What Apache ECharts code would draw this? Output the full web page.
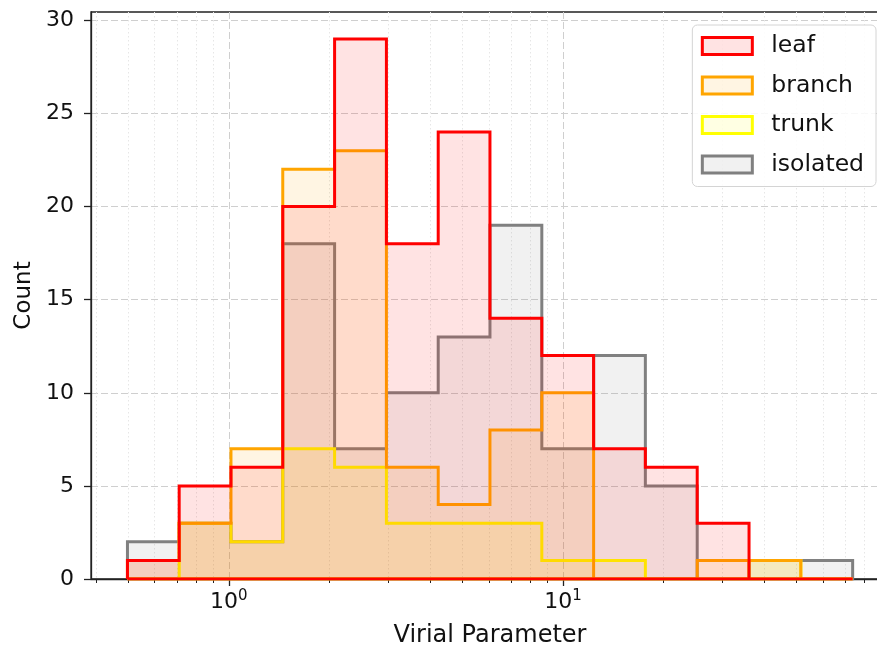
<!DOCTYPE html>
<html>
<head>
<meta charset="utf-8">
<script src="https://cdn.jsdelivr.net/npm/echarts@6/dist/echarts.min.js"></script>
<style>
  html, body { margin: 0; padding: 0; background: #fff; }
  #main { width: 877px; height: 653px; }
</style>
</head>
<body>
<div id="main"></div>
<script>
  // bin edges (log spaced)
  var binEdges = [0.4975, 0.7106, 1.0153, 1.4507, 2.0736, 2.9634, 4.2345, 6.0489,
                  8.6475, 12.357, 17.65, 25.23, 36.06, 51.53, 73.64];

  // counts per bin
  var leafCounts     = [1, 5, 6, 20, 29, 18, 24, 14, 12, 7, 6, 3, 0, 0];
  var branchCounts   = [1, 3, 7, 22, 23, 6, 4, 8, 10, 0, 0, 1, 1, 0];
  var trunkCounts    = [0, 3, 2, 7, 6, 3, 3, 3, 1, 1, 0, 0, 1, 0];
  var isolatedCounts = [2, 3, 2, 18, 7, 10, 13, 19, 7, 12, 5, 0, 1, 1];

  // axis ticks
  var xMajorTicks = [1, 10];
  var xMinorTicks = [0.4, 0.5, 0.6, 0.7, 0.8, 0.9, 2, 3, 4, 5, 6, 7, 8, 9,
                     20, 30, 40, 50, 60, 70, 80, 90];
  var yTicks = [0, 5, 10, 15, 20, 25, 30];
  var xRange = [0.387, 94.6];
  var yMax = 30.45;

  var FONT = 'DejaVu Sans';
  var lg = Math.log10;

  // step outline of a histogram (closed along 0, like matplotlib stepfilled)
  function stepPoints(counts) {
    var pts = [[lg(binEdges[0]), 0]];
    for (var i = 0; i < counts.length; i++) {
      pts.push([lg(binEdges[i]), counts[i]]);
      pts.push([lg(binEdges[i + 1]), counts[i]]);
    }
    pts.push([lg(binEdges[binEdges.length - 1]), 0]);
    pts.push([lg(binEdges[0]), 0]);
    return pts;
  }

  function histSeries(name, counts, line, fill, z) {
    return {
      name: name,
      type: 'line',
      data: stepPoints(counts),
      showSymbol: false,
      symbol: 'none',
      z: z,
      lineStyle: { color: line, width: 3, join: 'miter', cap: 'butt' },
      itemStyle: { color: line },
      areaStyle: { color: fill, opacity: 1 },
      emphasis: { disabled: true }
    };
  }

  var myChart = echarts.init(document.getElementById('main'));
  myChart.setOption({
    animation: false,
    grid: {
      left: 91, width: 798, top: 12, bottom: 74,
      outerBoundsMode: 'none',
      containLabel: false,
      show: true, borderColor: '#222', borderWidth: 1.3, backgroundColor: 'transparent'
    },
    legend: {
      orient: 'vertical',
      right: 1,
      top: 25,
      padding: [9, 12, 10, 8.5],
      itemWidth: 50,
      itemHeight: 17,
      itemGap: 15.5,
      backgroundColor: 'rgba(255,255,255,0.85)',
      borderColor: '#d4d4d4',
      borderWidth: 1,
      borderRadius: 5,
      textStyle: { fontFamily: FONT, fontSize: 23.5, color: '#111', padding: [0, 0, 0, 14] },
      data: [
        { name: 'leaf', icon: 'rect', itemStyle: { color: 'rgba(255,0,0,0.11)', borderColor: '#ff0000', borderWidth: 3 } },
        { name: 'branch', icon: 'rect', itemStyle: { color: 'rgba(255,165,0,0.11)', borderColor: '#ffa500', borderWidth: 3 } },
        { name: 'trunk', icon: 'rect', itemStyle: { color: 'rgba(255,255,0,0.11)', borderColor: '#ffff00', borderWidth: 3 } },
        { name: 'isolated', icon: 'rect', itemStyle: { color: 'rgba(128,128,128,0.11)', borderColor: '#808080', borderWidth: 3 } }
      ]
    },
    xAxis: [
      {
        type: 'value',
        min: lg(xRange[0]),
        max: lg(xRange[1]),
        position: 'bottom',
        name: 'Virial Parameter',
        nameLocation: 'middle',
        nameGap: 45,
        nameTextStyle: { fontFamily: FONT, fontSize: 24, color: '#111' },
        axisLine: { show: true, onZero: false, lineStyle: { color: '#222', width: 1.3 } },
        axisTick: { show: true, length: 7, customValues: xMajorTicks.map(lg), lineStyle: { color: '#222', width: 1.3 } },
        axisLabel: {
          customValues: xMajorTicks.map(lg),
          margin: 10,
          formatter: function (v) { return '{b|10}{s|' + Math.round(v) + '}'; },
          rich: {
            b: { fontFamily: FONT, fontSize: 22, color: '#111', lineHeight: 26 },
            s: { fontFamily: FONT, fontSize: 15, color: '#111', lineHeight: 15, verticalAlign: 'top' }
          }
        },
        splitLine: { show: true, lineStyle: { color: '#cfcfcf', width: 1, type: [7, 3] } }
      },
      {
        type: 'value',
        min: lg(xRange[0]),
        max: lg(xRange[1]),
        position: 'bottom',
        axisLine: { show: false, onZero: false },
        axisTick: { show: true, length: 4, customValues: xMinorTicks.map(lg), lineStyle: { color: '#222', width: 1 } },
        axisLabel: { show: false },
        splitLine: { show: true, lineStyle: { color: '#e6e6e6', width: 1, type: [1.5, 2.5] } }
      }
    ],
    yAxis: {
      type: 'value',
      min: 0,
      max: yMax,
      name: 'Count',
      nameLocation: 'middle',
      nameGap: 54,
      nameTextStyle: { fontFamily: FONT, fontSize: 23, color: '#111' },
      axisLine: { show: true, onZero: false, lineStyle: { color: '#222', width: 1.3 } },
      axisTick: { show: true, length: 7, customValues: yTicks, lineStyle: { color: '#222', width: 1.3 } },
      axisLabel: { customValues: yTicks, margin: 17, fontFamily: FONT, fontSize: 22, color: '#111' },
      splitLine: { show: true, lineStyle: { color: '#cfcfcf', width: 1, type: [7, 3] } }
    },
    series: [
      histSeries('isolated', isolatedCounts, '#808080', 'rgba(128,128,128,0.11)', 2),
      histSeries('trunk', trunkCounts, '#ffff00', 'rgba(255,255,0,0.11)', 3),
      histSeries('branch', branchCounts, '#ffa500', 'rgba(255,165,0,0.11)', 4),
      histSeries('leaf', leafCounts, '#ff0000', 'rgba(255,0,0,0.11)', 5)
    ]
  });
</script>
</body>
</html>
